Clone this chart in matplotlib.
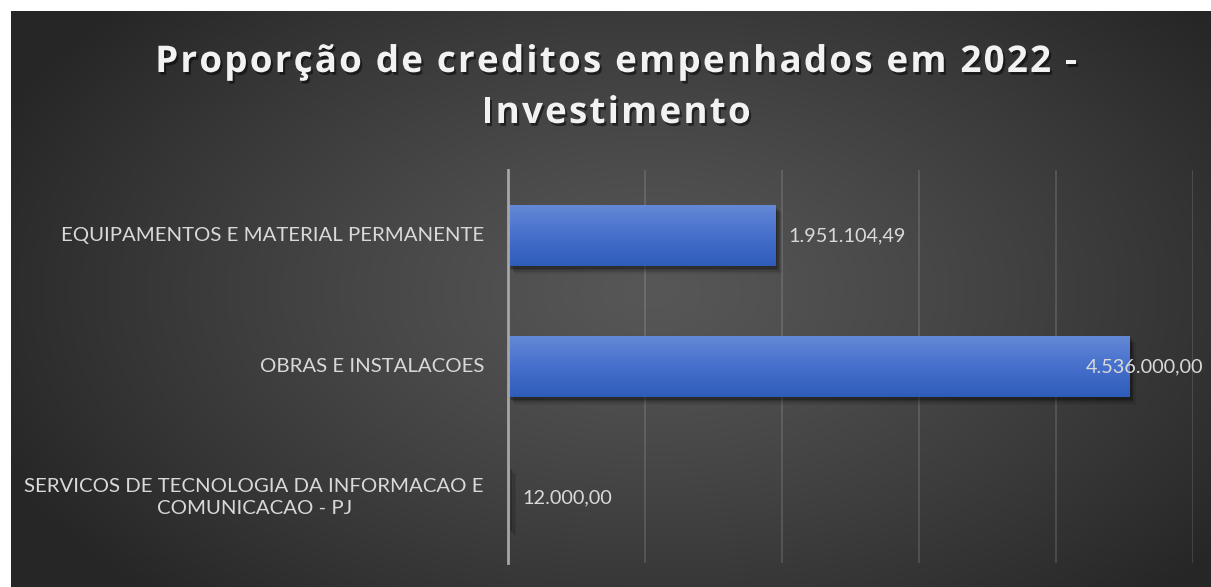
import numpy as np
import matplotlib
matplotlib.use("Agg")
import matplotlib.pyplot as plt
from matplotlib import patheffects as pe
from matplotlib import transforms as mtrans
from matplotlib.colors import LinearSegmentedColormap
from matplotlib.font_manager import FontProperties

categories = [
    "EQUIPAMENTOS E MATERIAL PERMANENTE",
    "OBRAS E INSTALACOES",
    "SERVICOS DE TECNOLOGIA DA INFORMACAO E\nCOMUNICACAO - PJ",
]
values = [1951104.49, 4536000.00, 12000.00]
value_labels = ["1.951.104,49", "4.536.000,00", "12.000,00"]
title_lines = ["Proporção de creditos empenhados em 2022 -", "Investimento"]
x_max = 5_000_000
x_step = 1_000_000

W, H = 1211, 587
fig = plt.figure(figsize=(W / 100, H / 100), dpi=100, facecolor="white")

# ---- chart area background (radial gradient) ----
M = 11
bg = fig.add_axes([M / W, 0, (W - M) / W, (H - M) / H])
bg.set_axis_off()
bh, bw = H - M, W - M
yy, xx = np.mgrid[0:bh, 0:bw]
cx, cy = 640, 280
r = np.sqrt(((xx - cx) / 720.0) ** 2 + ((yy - cy) / 430.0) ** 2)
r = np.clip(r, 0, 1)
light, dark = 0x57 / 255, 0x26 / 255
val = light + (dark - light) * r ** 1.2
img = np.dstack([val, val, val])
bg.imshow(img, extent=[0, bw, bh, 0], aspect="auto", interpolation="bilinear")
bg.set_xlim(0, bw)
bg.set_ylim(bh, 0)

# ---- plot axes ----
ax = fig.add_axes([508 / W, 1 - 563 / H, 685 / W, 393 / H])
ax.patch.set_alpha(0)
ypos = np.arange(len(categories))
bar_h = 0.47
shadow_fx = [pe.SimplePatchShadow(offset=(o, -o * 1.2), shadow_rgbFace="black", alpha=a)
             for o, a in [(4.5, 0.08), (3.5, 0.12), (2.5, 0.16), (1.5, 0.18)]] + [pe.Normal()]
bars = ax.barh(ypos, values, height=bar_h, color="#4472c4", zorder=3, path_effects=shadow_fx)
ax.set_xlim(0, x_max)
ax.set_ylim(len(categories) - 0.5, -0.5)

cmap = LinearSegmentedColormap.from_list("bar", ["#2e5db9", "#4670cc", "#6589d6"])
grad = np.linspace(0, 1, 100).reshape(-1, 1)
for b in bars:
    x0, y0 = b.get_x(), b.get_y()
    w, h = b.get_width(), b.get_height()
    im = ax.imshow(grad, extent=[x0, x0 + w, y0 + h, y0], origin="lower", aspect="auto",
                   cmap=cmap, zorder=4, interpolation="bilinear")
    im.set_clip_path(b)
ax.set_xlim(0, x_max)
ax.set_ylim(len(categories) - 0.5, -0.5)

ax.set_xticks(np.arange(0, x_max + 1, x_step))
ax.xaxis.grid(True, color="white", alpha=0.13, lw=1.4, zorder=0)
ax.set_axisbelow(True)
ax.tick_params(axis="x", length=0, labelbottom=False)
for s in ["top", "right", "bottom"]:
    ax.spines[s].set_visible(False)
ax.spines["left"].set_color("#a6a6a6")
ax.spines["left"].set_linewidth(2)
ax.spines["left"].set_zorder(5)

# ---- category labels (drawn as text for exact line spacing) ----
label_font = "Lato"
ax.set_yticks(ypos)
ax.set_yticklabels([""] * len(categories))
ax.tick_params(axis="y", length=0)
lab_tr = ax.get_yaxis_transform() + mtrans.ScaledTranslation(-24 / 100, 0, fig.dpi_scale_trans)
for i, cat in enumerate(categories):
    ax.text(0, i, cat, transform=lab_tr, ha="right", va="center", multialignment="center",
            linespacing=1.42, fontsize=14.7, color="#d9d9d9", family=label_font, clip_on=False)

# ---- data labels ----
for i, (v, lbl) in enumerate(zip(values, value_labels)):
    px, py = ax.transData.transform((v, i))
    lx = min(px + 13, W - 125)
    fig.text(lx / W, py / H, lbl, ha="left", va="center", fontsize=14.3,
             color="#d9d9d9", family=label_font, zorder=10)

# ---- title with letter spacing ----
renderer = fig.canvas.get_renderer()
size = 26.5
tfp = FontProperties(family="Open Sans", weight="bold", size=size)


def text_w(s):
    t = fig.text(0, 0, s, fontproperties=tfp)
    w = t.get_window_extent(renderer).width
    t.remove()
    return w


base = text_w("||")
cw = {ch: text_w("|" + ch + "|") - base for ch in set("".join(title_lines))}

targets = [925.0, 257.0]
nat = [sum(cw[c] for c in ln) for ln in title_lines]
gaps = [len(ln) - 1 for ln in title_lines]
track = sum(g * (t - n) for g, t, n in zip(gaps, targets, nat)) / sum(g * g for g in gaps)

shadow = [pe.SimplePatchShadow(offset=(1.5, -2), shadow_rgbFace="black", alpha=0.5), pe.Normal()]
centre_x = 616
baselines = [72, 123]
for line, by in zip(title_lines, baselines):
    total = sum(cw[c] for c in line) + track * (len(line) - 1)
    x = centre_x - total / 2
    for ch in line:
        if ch != " ":
            fig.text(x / W, 1 - by / H, ch, fontproperties=tfp, color="#f2f2f2",
                     ha="left", va="baseline", path_effects=shadow, zorder=10)
        x += cw[ch] + track

fig.savefig("out.png", dpi=100, facecolor="white")
